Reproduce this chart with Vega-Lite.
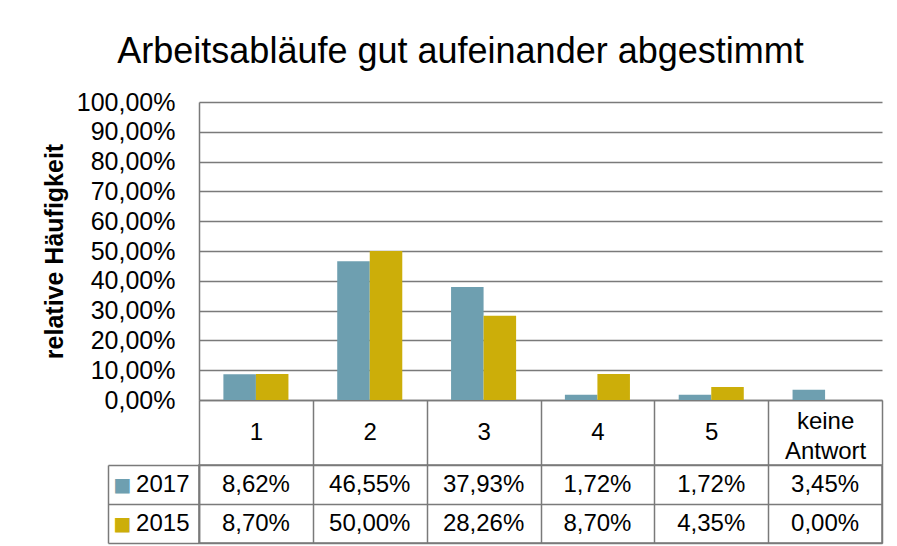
{
  "$schema": "https://vega.github.io/schema/vega-lite/v6.json",
  "padding": {"left": 42, "top": 34, "right": 5, "bottom": 0},
  "spacing": 65,
  "bounds": "flush",
  "title": {"text": "Arbeitsabläufe gut aufeinander abgestimmt", "fontSize": 36, "fontWeight": "normal", "color": "#000000", "anchor": "middle", "offset": 19, "dx": -2},
  "config": {
    "font": "Liberation Sans",
    "locale": {"number": {"decimal": ",", "thousands": ".", "grouping": [3], "currency": ["", " €"]}}
  },
  "data": {
    "values": [
      {"cat": "1", "year": "2017", "value": 0.0862},
      {"cat": "2", "year": "2017", "value": 0.4655},
      {"cat": "3", "year": "2017", "value": 0.3793},
      {"cat": "4", "year": "2017", "value": 0.0172},
      {"cat": "5", "year": "2017", "value": 0.0172},
      {"cat": "keine Antwort", "year": "2017", "value": 0.0345},
      {"cat": "1", "year": "2015", "value": 0.087},
      {"cat": "2", "year": "2015", "value": 0.5},
      {"cat": "3", "year": "2015", "value": 0.2826},
      {"cat": "4", "year": "2015", "value": 0.087},
      {"cat": "5", "year": "2015", "value": 0.0435},
      {"cat": "keine Antwort", "year": "2015", "value": 0}
    ]
  },
  "vconcat": [
    {
      "width": 683,
      "height": 298,
      "view": {"stroke": null},
      "mark": {"type": "bar"},
      "encoding": {
        "x": {
          "field": "cat", "type": "nominal",
          "sort": ["1", "2", "3", "4", "5", "keine Antwort"],
          "scale": {"paddingInner": 0, "paddingOuter": 0},
          "axis": {
            "title": null, "labelAngle": 0, "tickBand": "extent", "tickSize": 65,
            "tickColor": "#7a7a7a", "tickWidth": 1.5, "domainColor": "#7a7a7a", "domainWidth": 1.5,
            "labelFontSize": 24, "labelColor": "#000000", "labelBaseline": "middle",
            "labelPadding": {"condition": {"test": "datum.value == 'keine Antwort'", "value": -44}, "value": -33},
            "labelLineHeight": 30, "labelOverlap": false, "grid": false,
            "labelExpr": "datum.value == 'keine Antwort' ? ['keine', 'Antwort'] : datum.value"
          }
        },
        "xOffset": {
          "field": "year", "type": "nominal", "sort": ["2017", "2015"],
          "scale": {"paddingInner": 0, "paddingOuter": 0.75}
        },
        "y": {
          "field": "value", "type": "quantitative",
          "scale": {"domain": [0, 1], "nice": false},
          "axis": {
            "title": "relative Häufigkeit", "format": ".2%",
            "values": [0, 0.1, 0.2, 0.3, 0.4, 0.5, 0.6, 0.7, 0.8, 0.9, 1],
            "ticks": false, "labelPadding": 24, "labelFontSize": 25, "labelColor": "#000000",
            "titleFontSize": 25, "titleFontWeight": "bold", "titleColor": "#000000", "titlePadding": 9,
            "grid": true, "gridColor": "#7a7a7a", "gridWidth": 1.5,
            "domainColor": "#7a7a7a", "domainWidth": 1.5
          }
        },
        "color": {
          "field": "year", "type": "nominal",
          "scale": {"domain": ["2017", "2015"], "range": ["#6e9fb0", "#ccae09"]},
          "legend": null
        }
      }
    },
    {
      "width": 683,
      "height": 78,
      "view": {"stroke": "#7a7a7a", "strokeWidth": 1.5},
      "layer": [
        {
          "mark": {"type": "text", "fontSize": 24, "color": "#000000"},
          "encoding": {
            "x": {
              "field": "cat", "type": "nominal",
              "sort": ["1", "2", "3", "4", "5", "keine Antwort"],
              "axis": {
                "title": null, "labels": false, "ticks": false, "domain": false,
                "grid": true, "tickBand": "extent", "gridColor": "#7a7a7a", "gridWidth": 1.5
              }
            },
            "y": {
              "field": "year", "type": "nominal", "sort": ["2017", "2015"],
              "axis": {
                "title": null, "orient": "left", "tickBand": "extent", "tickSize": 91,
                "tickColor": "#7a7a7a", "tickWidth": 1.5, "domainColor": "#7a7a7a", "domainWidth": 1.5,
                "labelPadding": -81, "labelFontSize": 24, "labelColor": "#000000",
                "grid": true, "gridColor": "#7a7a7a", "gridWidth": 1.5
              }
            },
            "text": {"field": "value", "type": "quantitative", "format": ".2%"}
          }
        },
        {
          "mark": {"type": "point", "opacity": 0},
          "encoding": {
            "y": {
              "field": "year", "type": "nominal", "sort": ["2017", "2015"],
              "axis": {
                "title": null, "orient": "left", "offset": 91, "ticks": false, "tickSize": 0,
                "domainColor": "#7a7a7a", "domainWidth": 1.5,
                "labelExpr": "'■'", "labelFont": "DejaVu Sans", "labelFontSize": 19,
                "labelAlign": "left", "labelPadding": -5, "grid": false,
                "labelColor": {"condition": {"test": "datum.value == '2017'", "value": "#6e9fb0"}, "value": "#ccae09"}
              }
            }
          }
        }
      ],
      "resolve": {"scale": {"y": "independent"}}
    }
  ]
}
